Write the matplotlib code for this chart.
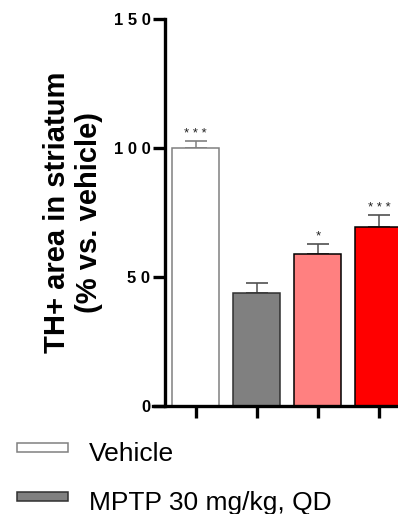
import matplotlib
matplotlib.use("Agg")
import matplotlib.pyplot as plt
from matplotlib.legend_handler import HandlerPatch
from matplotlib.patches import Rectangle

plt.rcParams['font.family'] = ['Liberation Sans', 'DejaVu Sans']

groups = ["Vehicle", "MPTP 30 mg/kg, QD", "Group 3", "Group 4"]
legend_labels = ["Vehicle", "MPTP 30 mg/kg, QD"]
means = [100.0, 43.6, 58.7, 69.2]
sems = [2.8, 3.9, 4.2, 4.7]
sig = ["***", "", "*", "***"]
yticks = [0, 50, 100, 150]

fills = ["#FFFFFF", "#808080", "#FF8080", "#FF0000"]
edges = ["#808080", "#303030", "#000000", "#000000"]
ecolors = ["#808080", "#505050", "#505050", "#505050"]

fig = plt.figure(figsize=(3.98, 5.14), dpi=100)
ax = fig.add_axes([165/398, (514-405.7)/514, 233/398, (405.7-19)/514])

x = list(range(len(means)))
bars = ax.bar(x, means, width=0.77, color=fills, edgecolor=edges, linewidth=1.1, zorder=2)
for i in x:
    ax.errorbar(i, means[i], yerr=[[0], [sems[i]]], fmt='none', ecolor=ecolors[i],
                elinewidth=1.1, capsize=8, capthick=1.2, zorder=1)
    if sig[i]:
        ax.text(i, means[i] + sems[i] + 2.6, " ".join(sig[i]), ha='center', va='center',
                fontsize=9.5, color='#202020')

ax.set_xlim(-0.5, 3.31)
ax.set_ylim(0, 150)
ax.set_yticks(yticks)
ax.set_yticklabels([" ".join(str(v)) for v in yticks], fontsize=12, fontweight='bold')
ax.set_xticks(x)
ax.set_xticklabels([])
for s in ['top', 'right']:
    ax.spines[s].set_visible(False)
for s in ['left', 'bottom']:
    ax.spines[s].set_linewidth(2.4)
ax.spines['bottom'].set_bounds(-0.7, 3.5)
ax.tick_params(axis='both', direction='out', length=8.5, width=2.4, color='black')
ax.tick_params(axis='y', pad=2)
ax.set_ylabel("TH+ area in striatum\n(% vs. vehicle)", fontsize=21, fontweight='bold',
              multialignment='center')
ax.yaxis.set_label_coords(-0.265, 0.5)


def key_rect(legend, orig_handle, xdescent, ydescent, width, height, fontsize):
    # legend key sits above the text baseline
    return Rectangle((-xdescent, 0.34 * fontsize), width, 0.356 * fontsize)


handler = HandlerPatch(patch_func=key_rect)
fig.legend(handles=[bars[0], bars[1]], labels=legend_labels, loc='upper left',
           bbox_to_anchor=(17/398, 1 - 442/514), frameon=False, fontsize=19,
           borderaxespad=0, borderpad=0, handlelength=1.93, handleheight=0.7,
           handletextpad=0.8, labelspacing=0.95,
           handler_map={bars[0]: handler, bars[1]: handler})

fig.savefig("out.png", dpi=100)
